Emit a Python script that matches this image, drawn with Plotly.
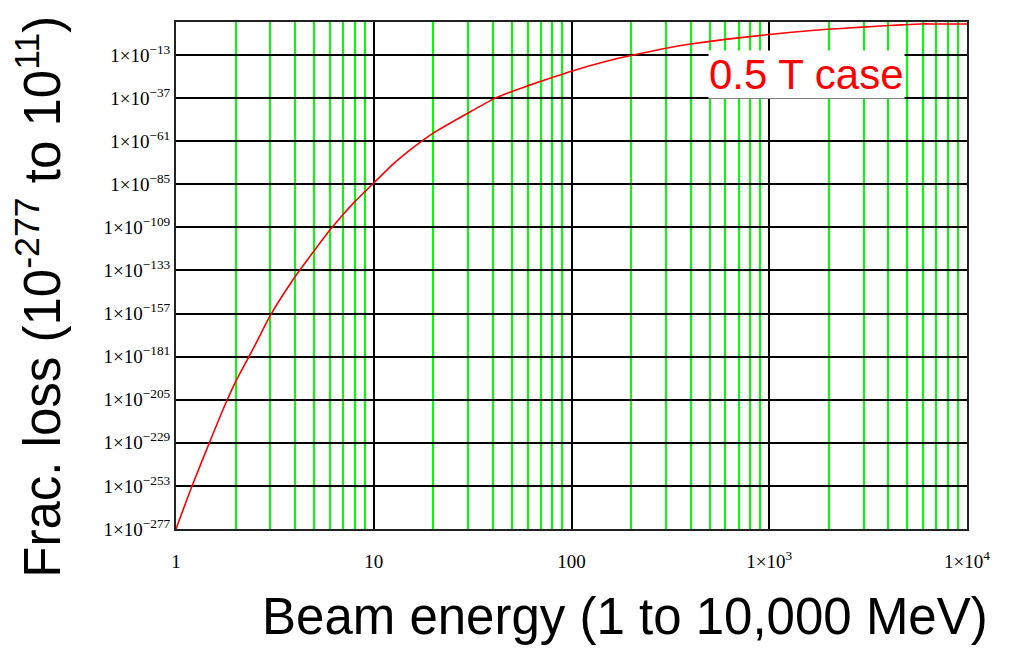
import plotly.graph_objects as go

# Beam energy (MeV) and log10 of fractional loss
energy = [1, 1.2, 1.5, 1.8, 2, 2.5, 3, 4, 5, 6, 7, 8, 9, 10,
          12.6, 15, 20, 30, 40, 50, 60, 80, 100, 150, 200, 300, 400, 600,
          1000, 1700, 2500, 3500, 4700, 5800, 7000, 10000]
log_loss = [-277, -253.6, -227, -206, -195, -175, -158, -136.5, -122, -110.5, -101.8,
            -94.8, -89.2, -84.3, -73.5, -66.5, -56.5, -45.3, -37.7, -33.3, -30.2, -25.5,
            -22.0, -16.5, -13.3, -9.2, -6.9, -4.3, -1.6, 0.8, 2.0, 3.0, 3.8, 4.3, 4.3, 4.3]
frac_loss = [10.0 ** v for v in log_loss]

x_tick_vals = [1, 10, 100, 1000, 10000]
x_tick_text = ["1", "10", "100", "1×10<sup>3</sup>", "1×10<sup>4</sup>"]
x_minor_vals = [m * 10 ** d for d in range(4) for m in range(2, 10)]

y_exps = list(range(-277, -12, 24))
y_tick_vals = [10.0 ** e for e in y_exps]
y_tick_text = ["1×10<sup>−%d</sup>" % (-e) for e in y_exps]

fig = go.Figure()
fig.add_trace(go.Scatter(x=energy, y=frac_loss, mode="lines",
                         line=dict(color="#ff0000", width=1.6, shape="spline", smoothing=0.6),
                         hoverinfo="skip"))

tick_font = dict(family="Liberation Serif, Times New Roman, serif", size=19, color="black")
fig.update_layout(
    width=1011, height=641,
    margin=dict(l=168, r=52, t=14, b=120),
    paper_bgcolor="white", plot_bgcolor="white",
    showlegend=False,
    xaxis=dict(type="log", range=[0, 4], tickmode="array", tickvals=x_tick_vals,
               ticktext=x_tick_text, tickfont=tick_font, ticks="", ticklabelstandoff=14,
               showgrid=True, gridcolor="black", gridwidth=2,
               showline=True, linecolor="#222222", linewidth=2, mirror=True,
               zeroline=False,
               minor=dict(tickmode="array", tickvals=x_minor_vals, showgrid=True,
                          gridcolor="#00ff00", gridwidth=2, ticks="")),
    yaxis=dict(type="log", range=[-277, 5.38], tickmode="array", tickvals=y_tick_vals,
               ticktext=y_tick_text, tickfont=tick_font, ticks="",
               showgrid=True, gridcolor="black", gridwidth=2,
               showline=True, linecolor="#222222", linewidth=2, mirror=True,
               zeroline=False),
    annotations=[
        dict(text="Beam energy (1 to 10,000 MeV)", xref="paper", yref="paper",
             x=0.568, y=-0.172, xanchor="center", yanchor="middle", showarrow=False,
             borderpad=0,
             font=dict(family="Liberation Sans, Arial, sans-serif", size=51, color="black")),
        dict(text="Frac. loss (10<sup>-277</sup> to 10<sup>11</sup>)", xref="paper", yref="paper",
             x=-0.1735, y=0.4576, xanchor="center", yanchor="middle", showarrow=False,
             textangle=-90, borderpad=0,
             font=dict(family="Liberation Sans, Arial, sans-serif", size=51, color="black")),
        dict(text="0.5 T case", xref="paper", yref="paper",
             x=0.7965, y=0.8974, xanchor="center", yanchor="middle", showarrow=False,
             bgcolor="white", borderpad=0,
             font=dict(family="Liberation Sans, Arial, sans-serif", size=42, color="#ff0000")),
    ],
)

fig.write_html("out.html")
